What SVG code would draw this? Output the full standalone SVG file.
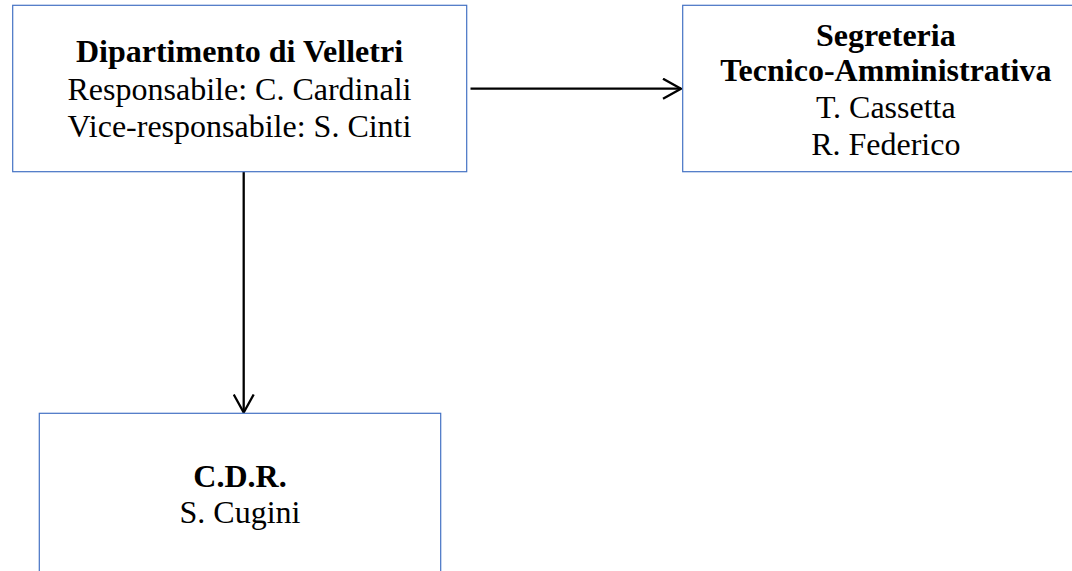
<svg xmlns="http://www.w3.org/2000/svg" width="1072" height="571" viewBox="0 0 1072 571">
<style>
.box{fill:#fff;stroke:#4472C4;stroke-width:1.2}
.t{font-family:"Liberation Serif","Times New Roman",serif;font-size:32px;fill:#000;text-anchor:middle}
.b{font-weight:bold}
.c{stroke:#000;stroke-width:2.3;fill:none}
</style>
<defs>
<marker id="ah" viewBox="0 0 20 22" refX="19" refY="11" markerWidth="20" markerHeight="22" markerUnits="userSpaceOnUse" orient="auto">
<path d="M1,1 L19,11 L1,21" fill="none" stroke="#000" stroke-width="2.3"/>
</marker>
</defs>
<rect width="1072" height="571" fill="#fff"/>
<g id="connectors">
<line class="c" x1="470.5" y1="88.7" x2="681" y2="88.7" marker-end="url(#ah)"/>
<line class="c" x1="243.7" y1="172" x2="243.7" y2="412.5" marker-end="url(#ah)"/>
</g>
<g id="node-dipartimento">
<rect class="box" x="12.7" y="5.3" width="454" height="166.4"/>
<text class="t b" x="239.5" y="62.3">Dipartimento di Velletri</text>
<text class="t" x="239.5" y="99.5">Responsabile: C. Cardinali</text>
<text class="t" x="239.5" y="136.7">Vice-responsabile: S. Cinti</text>
</g>
<g id="node-segreteria">
<rect class="box" x="682.7" y="5.3" width="406" height="166.4"/>
<text class="t b" x="885.8" y="45.7">Segreteria</text>
<text class="t b" x="885.8" y="81">Tecnico-Amministrativa</text>
<text class="t" x="885.8" y="118.3">T. Cassetta</text>
<text class="t" x="885.8" y="155">R. Federico</text>
</g>
<g id="node-cdr">
<rect class="box" x="39.3" y="413.3" width="401.4" height="200"/>
<text class="t b" x="240" y="486.7">C.D.R.</text>
<text class="t" x="240" y="522.7">S. Cugini</text>
</g>
</svg>
